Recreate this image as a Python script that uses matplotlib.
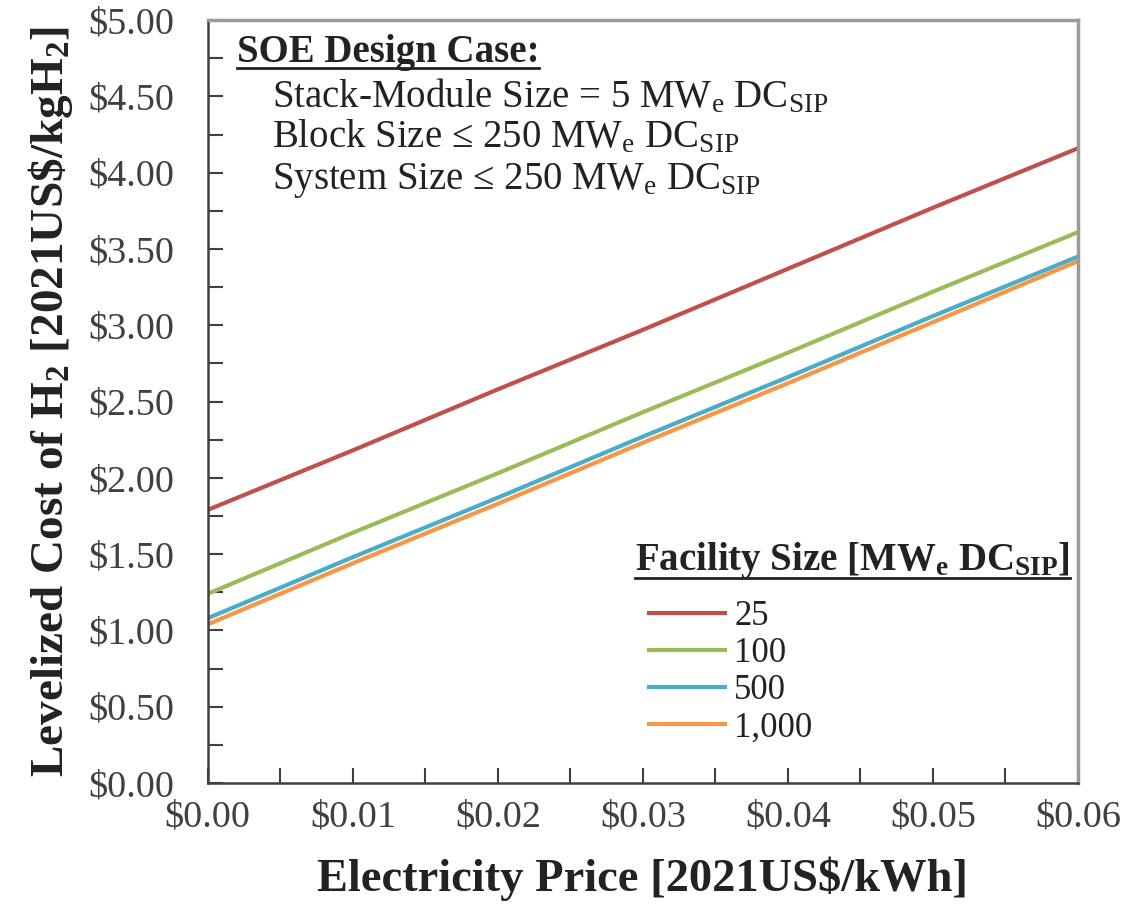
import matplotlib
matplotlib.use('Agg')
import matplotlib.pyplot as plt
from matplotlib.lines import Line2D
from matplotlib.ticker import MultipleLocator, FuncFormatter

plt.rcParams['font.family'] = ['Liberation Serif', 'DejaVu Serif']
plt.rcParams['mathtext.fontset'] = 'custom'
plt.rcParams['mathtext.rm'] = 'Liberation Serif'
plt.rcParams['mathtext.it'] = 'Liberation Serif:italic'
plt.rcParams['mathtext.bf'] = 'Liberation Serif:bold'

# electricity price [2021US$/kWh]
price = [0.00, 0.01, 0.02, 0.03, 0.04, 0.05, 0.06]

# levelized cost of H2 [2021US$/kgH2] per facility size
lcoh_25 = [1.79, 2.18, 2.58, 2.97, 3.37, 3.77, 4.16]
lcoh_100 = [1.24, 1.64, 2.03, 2.43, 2.82, 3.22, 3.61]
lcoh_500 = [1.08, 1.48, 1.87, 2.27, 2.66, 3.06, 3.45]
lcoh_1000 = [1.04, 1.44, 1.83, 2.23, 2.62, 3.02, 3.42]

sizes = ['25', '100', '500', '1,000']
colors = ['#C0504D', '#9BBB59', '#4BACC6', '#F79646']

ink = '#222222'

fig = plt.figure(figsize=(11.48, 9.13), dpi=100)
ax = fig.add_axes([0.181, 0.1424, 0.758, 0.8356])

for series, label, c in zip([lcoh_25, lcoh_100, lcoh_500, lcoh_1000], sizes, colors):
    ax.plot(price, series, color=c, linewidth=3, label=label, solid_capstyle='butt')

ax.set_xlim(0, 0.06)
ax.set_ylim(0, 5)
ax.xaxis.set_major_locator(MultipleLocator(0.01))
ax.xaxis.set_minor_locator(MultipleLocator(0.005))
ax.yaxis.set_major_locator(MultipleLocator(0.5))
ax.yaxis.set_minor_locator(MultipleLocator(0.25))
ax.xaxis.set_major_formatter(FuncFormatter(lambda v, p: f'${v:.2f}'))
ax.yaxis.set_major_formatter(FuncFormatter(lambda v, p: f'${v:.2f}'))

ax.tick_params(axis='both', which='both', direction='in', length=11, width=1.5,
               color='#404040', labelcolor='#404040', labelsize=27.5)
ax.tick_params(axis='y', which='both', right=False, pad=24)
ax.tick_params(axis='x', which='both', top=False, pad=12)

for side in ['left', 'bottom']:
    ax.spines[side].set_color('#404040')
    ax.spines[side].set_linewidth(1.8)
for side in ['top', 'right']:
    ax.spines[side].set_color('#9a9a9a')
    ax.spines[side].set_linewidth(2.5)

ax.set_xlabel('Electricity Price [2021US\\$/kWh]', fontsize=33.5, fontweight='bold',
              color=ink, labelpad=16)
ax.set_ylabel('Levelized Cost of H$_\\mathbf{2}$ [2021US\\$/kgH$_\\mathbf{2}$]',
              fontsize=34, fontweight='bold', color=ink, labelpad=10)

# design case notes
head = ax.text(0.033, 0.958, 'SOE Design Case:', transform=ax.transAxes,
               fontsize=28, fontweight='bold', color=ink, va='center')
notes = ['Stack-Module Size = 5 MW$_\\mathrm{e}$ DC$_\\mathrm{SIP}$',
         'Block Size \u2264 250 MW$_\\mathrm{e}$ DC$_\\mathrm{SIP}$',
         'System Size \u2264 250 MW$_\\mathrm{e}$ DC$_\\mathrm{SIP}$']
for txt, yy in zip(notes, [0.899, 0.846, 0.790]):
    ax.text(0.074, yy, txt, transform=ax.transAxes, fontsize=28,
            color=ink, va='center')

# legend heading drawn separately so the entries can sit indented under it
leg_head = ax.text(0.491, 0.292, 'Facility Size [MW$_\\mathbf{e}$ DC$_\\mathbf{SIP}$]',
                   transform=ax.transAxes, fontsize=28, fontweight='bold',
                   color=ink, va='center')
leg = ax.legend(loc='upper left', bbox_to_anchor=(0.505, 0.240), frameon=False,
                fontsize=25, handlelength=2.3, handletextpad=0.2,
                labelspacing=0.12, borderaxespad=0, borderpad=0)
for t in leg.get_texts():
    t.set_color(ink)

# underline the two headings
fig.canvas.draw()
renderer = fig.canvas.get_renderer()
inv = fig.transFigure.inverted()
for t, off in [(head, 3), (leg_head, 3)]:
    bb = t.get_window_extent(renderer)
    (x0, y0), (x1, _) = inv.transform([(bb.x0, bb.y0 + off), (bb.x1, bb.y0 + off)])
    fig.add_artist(Line2D([x0, x1], [y0, y0], transform=fig.transFigure,
                          color=ink, linewidth=2))

fig.savefig('out.png', dpi=100, facecolor='white')
